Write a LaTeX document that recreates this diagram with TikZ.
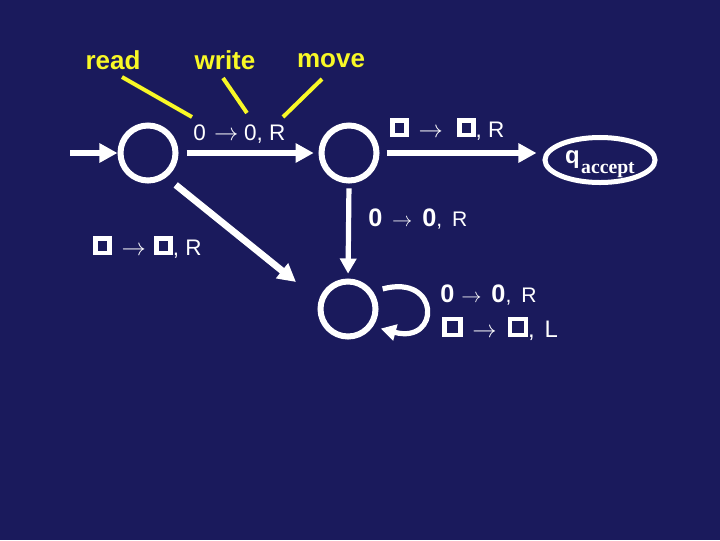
\documentclass[tikz,border=0pt]{standalone}
\usepackage{fontspec}
\setmainfont{Liberation Sans}
\newfontfamily\serifbf{Liberation Serif}
\usepackage{xcolor}
\usepackage{tikz}
\usetikzlibrary{shapes.geometric, positioning, arrows.meta}
\definecolor{tmnavy}{HTML}{1A1A5C}
\definecolor{tmyellow}{HTML}{F8F826}
\setlength{\fboxrule}{3.2pt}
\setlength{\fboxsep}{0pt}
% blank tape symbol
\newcommand{\blanksym}[1][6.8pt]{\raisebox{\fboxrule}{\fbox{\rule{0pt}{#1}\hspace{#1}}}}
\newcommand{\bigzero}{{\fontsize{18}{20}\selectfont\bfseries 0}}
\newcommand{\goesto}[2]{\hspace{#1}$\rightarrow$\hspace{#2}}
\tikzset{
  state/.style={circle, draw=white, line width=0.15cm, minimum size=1.375cm, inner sep=0pt},
  acceptst/.style={ellipse, draw=white, line width=0.125cm, minimum width=2.75cm,
                   minimum height=1.125cm, inner sep=0pt, text=white},
  trans/.style={draw=white, line width=0.17cm, -{Triangle[length=0.45cm,width=0.46cm]}},
  thintrans/.style={draw=white, line width=0.13cm, -{Triangle[length=0.38cm,width=0.4cm]}},
  lbl/.style={text=white, font=\fontsize{16}{18}\selectfont, inner sep=0pt, anchor=base west},
  biglbl/.style={text=white, font=\fontsize{15}{18}\selectfont, inner sep=0pt, anchor=base west},
  tag/.style={text=tmyellow, font=\fontsize{18.5}{20}\selectfont\bfseries},
  pointer/.style={draw=tmyellow, line width=0.1cm}
}

\begin{document}
\begin{tikzpicture}[x=0.025cm, y=-0.025cm]
  \fill[tmnavy] (0,0) rectangle (720,540);
  \useasboundingbox (0,0) rectangle (720,540);

  % states
  \node[state] (s1) at (148,153) {};
  \node[state] (s2) at (349,153) {};
  \node[state] (s3) at (348,309) {};
  \node[acceptst] (acc) at (600,160)
    {\raisebox{-3pt}[\height][\depth]{\fontsize{17}{20}\selectfont\bfseries q\hspace{1pt}\raisebox{-6.5pt}{\serifbf\bfseries\fontsize{14}{16}\selectfont accept}}};
  \coordinate (in) at (70,153);
  \coordinate (rej) at (296,282);

  % transitions
  \draw[trans] (in) -- (s1);
  \draw[trans, shorten <=0.2cm, shorten >=0.12cm] (s1) -- (s2);
  \draw[trans, shorten <=0.18cm, shorten >=0.15cm] (s2) -- (s2 -| acc.west);
  \draw[trans, shorten <=0.3cm] (s1.-53) -- (rej);
  \draw[thintrans, shorten <=0.12cm, shorten >=0.12cm] (s2.south) -- (s3.north);
  \draw[thintrans, shorten <=0.25cm, shorten >=0.2cm]
    (s3.35) .. controls +(15:1.75cm) and +(-15:1.75cm) .. (s3.-35);

  % transition labels
  \node[lbl] (t12) at (193,140) {0\goesto{6pt}{4pt}0, R};
  \node[lbl] (t2a) at (390,137) {\blanksym\goesto{7pt}{10pt}\blanksym, R};
  \node[lbl] (t1r) at (93,255) {\blanksym\goesto{7pt}{6pt}\blanksym, R};
  \node[biglbl] (t23) at (368,226) {\bigzero\goesto{7pt}{7pt}\bigzero,\hspace{7pt}R};
  \node[biglbl] (t33a) at (440,302) {\bigzero\goesto{5pt}{7pt}\bigzero,\hspace{7pt}R};
  \node[biglbl, font=\fontsize{17}{18}\selectfont] (t33b) at (442,337)
    {\blanksym[8pt]\goesto{7pt}{8pt}\blanksym[8pt],\hspace{7pt}L};

  % read / write / move
  \node[tag] (read) at (113,60) {read};
  \node[tag] (write) at (225,60) {write};
  \node[tag] (move) at (331,61) {move};
  \coordinate (rda) at (122,77);  \coordinate (rdb) at (192,117);
  \coordinate (wra) at (223,78);  \coordinate (wrb) at (247,113);
  \coordinate (mva) at (322,79);  \coordinate (mvb) at (283,117);
  \draw[pointer] (rda) -- (rdb);
  \draw[pointer] (wra) -- (wrb);
  \draw[pointer] (mva) -- (mvb);
\end{tikzpicture}
\end{document}
